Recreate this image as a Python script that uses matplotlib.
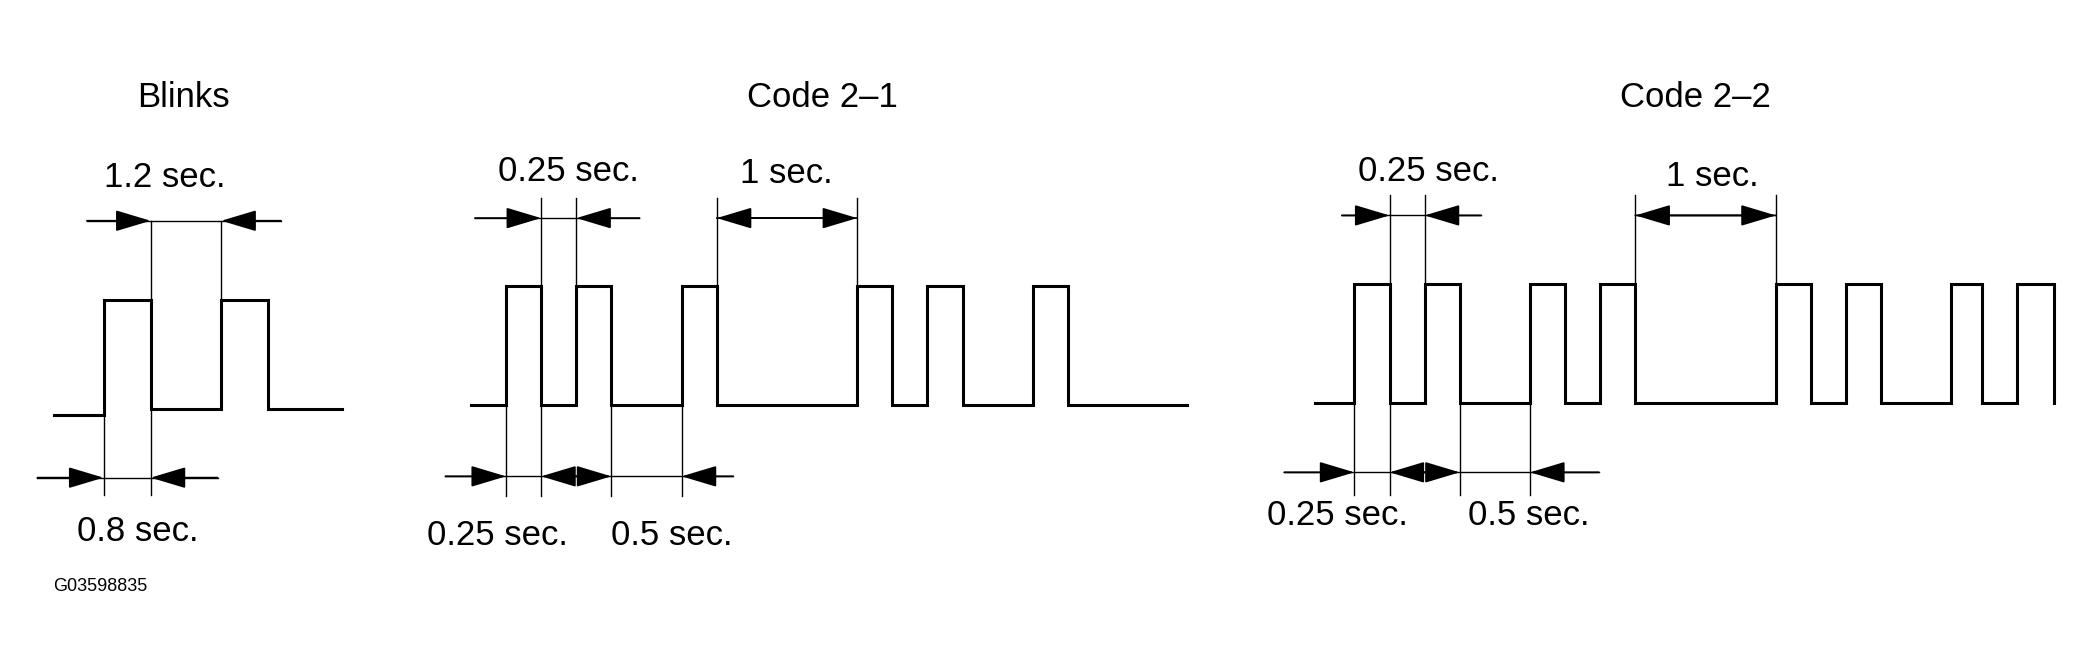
import matplotlib.pyplot as plt
import numpy as np

plt.rcParams['font.family'] = ['Liberation Sans', 'DejaVu Sans']

# waveform timing, seconds: (level, duration) pairs; 1 = lamp on
blinks_wave = [(0, 0.85), (1, 0.8), (0, 1.2), (1, 0.8), (0, 1.25)]
code21_wave = [(0, 0.25), (1, 0.25), (0, 0.25), (1, 0.25), (0, 0.5), (1, 0.25), (0, 1.0),
               (1, 0.25), (0, 0.25), (1, 0.25), (0, 0.5), (1, 0.25), (0, 0.85)]
code22_wave = [(0, 0.28), (1, 0.25), (0, 0.25), (1, 0.25), (0, 0.5), (1, 0.25), (0, 0.25),
               (1, 0.25), (0, 1.0), (1, 0.25), (0, 0.25), (1, 0.25), (0, 0.5), (1, 0.22),
               (0, 0.25), (1, 0.26)]

titles = ["Blinks", "Code 2\u20131", "Code 2\u20132"]
fig_code = "G03598835"

W, H = 1560, 497
fig = plt.figure(figsize=(20.87, 6.65), dpi=100)
ax = fig.add_axes([0, 0, 1, 1])
ax.set_xlim(0, W)
ax.set_ylim(H, 0)
ax.axis('off')

FS = 25


def draw_wave(wave, x0, scale, ylow, yhigh, drop_end=False, lead_y=None):
    x = x0
    pts_x, pts_y = [], []
    for i, (lvl, dur) in enumerate(wave):
        y = yhigh if lvl else ylow
        if i == 0 and lead_y is not None:
            y = lead_y
        pts_x += [x, x + dur * scale]
        pts_y += [y, y]
        x += dur * scale
    if drop_end:
        pts_x.append(x)
        pts_y.append(ylow)
    ax.plot(pts_x, pts_y, color='black', lw=2.2, solid_joinstyle='miter')
    edges = [x0]
    for _, dur in wave:
        edges.append(edges[-1] + dur * scale)
    return edges


def vline(x, y0, y1):
    ax.plot([x, x], [y0, y1], color='black', lw=1.0)


def arrow(tip, tail, y):
    ax.annotate('', xy=(tip, y), xytext=(tail, y),
                arrowprops=dict(arrowstyle='-|>,head_length=1.0,head_width=0.3',
                                color='black', lw=1.3, shrinkA=0, shrinkB=0,
                                mutation_scale=22))


def label(x, y, s):
    ax.text(x, y, s, fontsize=FS, ha='center', va='center')


# ---- Blinks ----
e = draw_wave(blinks_wave, 40, 44, 306, 224, lead_y=310)
vline(e[1], 224, 370)
vline(e[2], 165, 370)
vline(e[3], 165, 224)
ax.plot([65, 210], [165, 165], color='black', lw=1.0)
arrow(e[2], 65, 165)
arrow(e[3], 210, 165)
ax.plot([28, e[2] + 50], [357, 357], color='black', lw=1.0)
arrow(e[1], 28, 357)
arrow(e[2], e[2] + 50, 357)
label(137, 73, titles[0])
label(123, 133, "1.2 sec.")
label(103, 397, "0.8 sec.")

# ---- Code 2-1 ----
e = draw_wave(code21_wave, 352, 105, 303, 214)
vline(e[1], 214, 371)
vline(e[2], 148, 371)
vline(e[3], 148, 214)
vline(e[4], 214, 371)
vline(e[5], 214, 371)
vline(e[6], 148, 214)
vline(e[7], 148, 214)
ax.plot([355, 478], [163, 163], color='black', lw=1.0)
arrow(e[2], 355, 163)
arrow(e[3], 478, 163)
arrow(e[6], e[7], 163)
arrow(e[7], e[6], 163)
ax.plot([333, 548], [356, 356], color='black', lw=1.0)
arrow(e[1], 333, 356)
arrow(e[2], e[3], 356)
arrow(e[4], e[3], 356)
arrow(e[5], 548, 356)
label(615, 73, titles[1])
label(425, 128, "0.25 sec.")
label(588, 130, "1 sec.")
label(372, 400, "0.25 sec.")
label(502, 400, "0.5 sec.")

# ---- Code 2-2 ----
e = draw_wave(code22_wave, 983, 105, 301, 212, drop_end=True)
vline(e[1], 212, 370)
vline(e[2], 146, 370)
vline(e[3], 146, 212)
vline(e[4], 212, 370)
vline(e[5], 212, 370)
vline(e[8], 146, 212)
vline(e[9], 146, 212)
ax.plot([1003, 1107], [161, 161], color='black', lw=1.0)
arrow(e[2], 1003, 161)
arrow(e[3], 1107, 161)
arrow(e[8], e[9], 161)
arrow(e[9], e[8], 161)
ax.plot([960, 1195], [353, 353], color='black', lw=1.0)
arrow(e[1], 960, 353)
arrow(e[2], e[3], 353)
arrow(e[4], e[3], 353)
arrow(e[5], 1195, 353)
label(1267, 73, titles[2])
label(1068, 128, "0.25 sec.")
label(1280, 132, "1 sec.")
label(1000, 385, "0.25 sec.")
label(1143, 385, "0.5 sec.")

ax.text(40, 438, fig_code, fontsize=13, ha='left', va='center')

fig.savefig('out.png', dpi=100)
